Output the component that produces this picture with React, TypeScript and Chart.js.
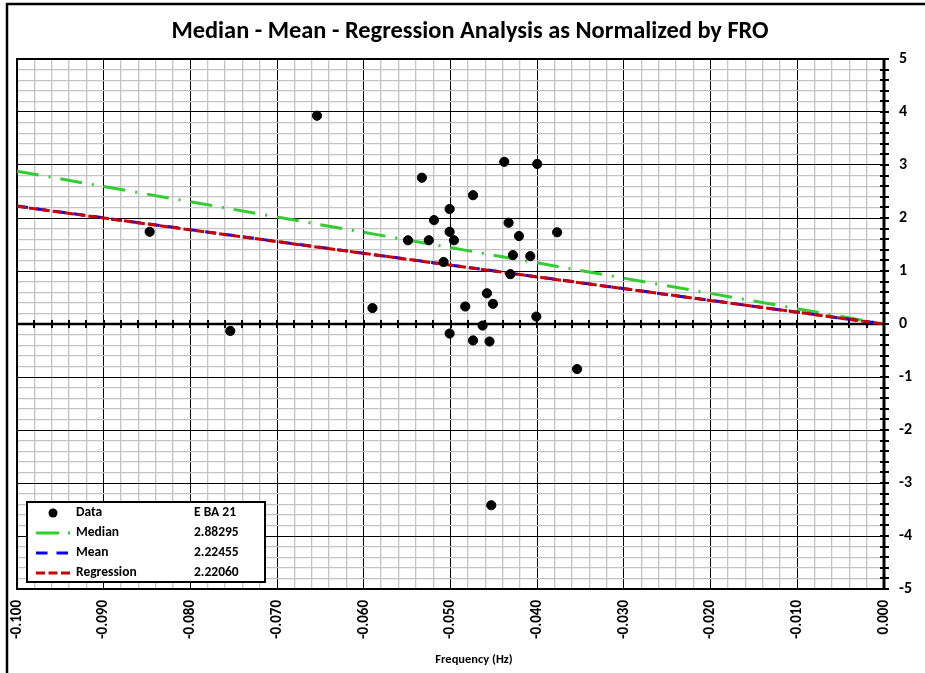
import React, { useEffect, useRef } from "react";
import { Chart, registerables } from "chart.js";

Chart.register(...registerables);

// ---------- data ----------
const chartTitle = "Median - Mean - Regression Analysis as Normalized by FRO";
const xAxisTitle = "Frequency (Hz)";

const dataX = [
  -0.0654, -0.0847, -0.0754, -0.059, -0.0533, -0.0549, -0.0525, -0.0519, -0.0508, -0.0501,
  -0.0501, -0.0496, -0.0501, -0.0483, -0.0474, -0.0474, -0.0463, -0.0458, -0.0455, -0.0451,
  -0.0453, -0.0438, -0.0433, -0.0431, -0.0428, -0.0421, -0.0408, -0.04, -0.0401, -0.0377,
  -0.0354,
];
const dataY = [
  3.93, 1.74, -0.13, 0.3, 2.76, 1.58, 1.58, 1.96, 1.17, 2.17,
  1.74, 1.58, -0.18, 0.33, 2.43, -0.31, -0.03, 0.58, -0.33, 0.38,
  -3.42, 3.06, 1.91, 0.94, 1.3, 1.66, 1.28, 3.02, 0.14, 1.73,
  -0.85,
];

const lineX = [-0.1, 0];
const medianY = [2.88295, 0];
const meanY = [2.22455, 0];
const regressionY = [2.2206, 0];

const legendLabels = ["Data", "Median", "Mean", "Regression"];
const legendValues = ["E BA 21", "2.88295", "2.22455", "2.22060"];

const xMin = -0.1;
const xMax = 0;
const xStep = 0.002;
const yMin = -5;
const yMax = 5;
const yStep = 0.2;

// ---------- style ----------
const FONT = "Carlito, Lato, 'Open Sans', sans-serif";
const GREEN = "#33cc33";
const BLUE = "#0000ff";
const RED = "#cc0000";
const MEDIAN_DASH = [22, 10, 2, 10];
const MEAN_DASH = [11, 8];
const REG_DASH = [9, 3];

const isMajorX = (v: number) => Math.abs(v * 100 - Math.round(v * 100)) < 1e-6;
const isMajorY = (v: number) => Math.abs(v - Math.round(v)) < 1e-6;

const pts = (xs: number[], ys: number[]) => xs.map((x, i) => ({ x, y: ys[i] }));

const stepTicks = (min: number, max: number, step: number) => {
  const n = Math.round((max - min) / step);
  const out: { value: number }[] = [];
  for (let i = 0; i <= n; i++) out.push({ value: Math.round((min + i * step) * 1e6) / 1e6 });
  return out;
};

const decorPlugin = {
  id: "decor",
  beforeDatasetsDraw(chart: any) {
    const { ctx, chartArea: a, scales } = chart;
    const xs = scales.x;
    const ys = scales.y;
    ctx.save();
    ctx.strokeStyle = "#000";
    // plot border
    ctx.lineWidth = 2;
    ctx.strokeRect(a.left, a.top, a.right - a.left, a.bottom - a.top);
    // zero line with ticks
    const y0 = Math.round(ys.getPixelForValue(0));
    ctx.lineWidth = 2.5;
    ctx.beginPath();
    ctx.moveTo(a.left, y0);
    ctx.lineTo(a.right, y0);
    ctx.stroke();
    ctx.lineWidth = 2;
    ctx.beginPath();
    xs.ticks.forEach((t: any) => {
      const px = Math.round(xs.getPixelForValue(t.value));
      ctx.moveTo(px, y0 - 4);
      ctx.lineTo(px, y0 + 4);
    });
    ctx.stroke();
    // y axis line at x = 0 with ticks
    const x0 = Math.round(xs.getPixelForValue(0));
    ctx.lineWidth = 3;
    ctx.beginPath();
    ctx.moveTo(x0, a.top);
    ctx.lineTo(x0, a.bottom);
    ctx.stroke();
    ctx.lineWidth = 2;
    ctx.beginPath();
    ys.ticks.forEach((t: any) => {
      const py = Math.round(ys.getPixelForValue(t.value));
      ctx.moveTo(x0 - 4, py);
      ctx.lineTo(x0 + 5, py);
    });
    ctx.stroke();
    ctx.restore();
  },
  afterDraw(chart: any) {
    const { ctx, chartArea: a } = chart;
    ctx.save();
    // outer frame (left and top edges visible)
    ctx.strokeStyle = "#000";
    ctx.lineWidth = 2.5;
    ctx.beginPath();
    ctx.moveTo(7, 700);
    ctx.lineTo(7, 4);
    ctx.lineTo(960, 4);
    ctx.stroke();

    // title
    ctx.fillStyle = "#000";
    ctx.textBaseline = "middle";
    ctx.textAlign = "center";
    ctx.font = `bold 24.4px ${FONT}`;
    ctx.fillText(chartTitle, 470, 32);

    // x axis title
    ctx.font = `bold 12.5px ${FONT}`;
    ctx.fillText(xAxisTitle, 474, 660);

    // legend
    const lx = a.left + 10;
    const ly = a.bottom - 87;
    const lw = 238;
    const lh = 80;
    ctx.fillStyle = "#fff";
    ctx.fillRect(lx, ly, lw, lh);
    ctx.strokeStyle = "#000";
    ctx.lineWidth = 2;
    ctx.strokeRect(lx, ly, lw, lh);
    const rowY = (i: number) => ly + 11 + i * 20;
    // Data marker
    ctx.fillStyle = "#000";
    ctx.beginPath();
    ctx.arc(lx + 26, rowY(0), 4.5, 0, Math.PI * 2);
    ctx.fill();
    const sample = (i: number, color: string, dash: number[]) => {
      ctx.strokeStyle = color;
      ctx.lineWidth = 3;
      ctx.setLineDash(dash);
      ctx.beginPath();
      ctx.moveTo(lx + 9, rowY(i));
      ctx.lineTo(lx + 43, rowY(i));
      ctx.stroke();
      ctx.setLineDash([]);
    };
    sample(1, GREEN, [23, 9, 2, 9]);
    sample(2, BLUE, [11.5, 9]);
    sample(3, RED, [9, 3.5]);
    ctx.fillStyle = "#000";
    ctx.textAlign = "left";
    ctx.font = `bold 13.5px ${FONT}`;
    legendLabels.forEach((t, i) => ctx.fillText(t, lx + 49, rowY(i)));
    legendValues.forEach((t, i) => ctx.fillText(t, lx + 167, rowY(i)));
    ctx.restore();
  },
};

export default function App() {
  const ref = useRef<HTMLCanvasElement | null>(null);

  useEffect(() => {
    if (!ref.current) return;
    const chart = new Chart(ref.current, {
      type: "scatter",
      data: {
        datasets: [
          {
            label: "Data",
            data: pts(dataX, dataY),
            backgroundColor: "#000",
            borderColor: "#000",
            pointRadius: 4.6,
            pointHoverRadius: 4.6,
            order: 0,
          },
          {
            label: "Regression",
            data: pts(lineX, regressionY),
            showLine: true,
            borderColor: RED,
            borderWidth: 3,
            borderDash: REG_DASH,
            pointRadius: 0,
            order: 1,
          },
          {
            label: "Mean",
            data: pts(lineX, meanY),
            showLine: true,
            borderColor: BLUE,
            borderWidth: 3,
            borderDash: MEAN_DASH,
            pointRadius: 0,
            order: 2,
          },
          {
            label: "Median",
            data: pts(lineX, medianY),
            showLine: true,
            borderColor: GREEN,
            borderWidth: 3,
            borderDash: MEDIAN_DASH,
            pointRadius: 0,
            order: 3,
          },
        ],
      },
      options: {
        responsive: false,
        animation: false,
        layout: { padding: { left: 17, top: 59, right: 0, bottom: 0 } },
        plugins: {
          legend: { display: false },
          tooltip: { enabled: false },
          title: { display: false },
        },
        scales: {
          x: {
            type: "linear",
            position: "bottom",
            min: xMin,
            max: xMax,
            afterBuildTicks: (s: any) => {
              s.ticks = stepTicks(xMin, xMax, xStep);
            },
            afterFit: (s: any) => {
              s.height = 84;
            },
            border: { display: false },
            grid: {
              drawTicks: false,
              color: (c: any) => (isMajorX(c.tick.value) ? "#000" : "#c4c4c4"),
              lineWidth: (c: any) => (isMajorX(c.tick.value) ? 1 : 1.3),
            },
            ticks: {
              stepSize: xStep,
              autoSkip: false,
              minRotation: 90,
              maxRotation: 90,
              padding: 11,
              color: "#000",
              font: { family: FONT, size: 15, weight: "bold" },
              callback: (v: any) => (isMajorX(Number(v)) ? Number(v).toFixed(3) : ""),
            },
          },
          y: {
            type: "linear",
            position: "right",
            min: yMin,
            max: yMax,
            afterBuildTicks: (s: any) => {
              s.ticks = stepTicks(yMin, yMax, yStep);
            },
            afterFit: (s: any) => {
              s.width = 41;
            },
            border: { display: false },
            grid: {
              drawTicks: false,
              color: (c: any) => (isMajorY(c.tick.value) ? "#000" : "#c4c4c4"),
              lineWidth: (c: any) => (isMajorY(c.tick.value) ? 1 : 1.3),
            },
            ticks: {
              stepSize: yStep,
              autoSkip: false,
              padding: 15,
              color: "#000",
              font: { family: FONT, size: 16, weight: "bold" },
              callback: (v: any) => (isMajorY(Number(v)) ? String(Math.round(Number(v))) : ""),
            },
          },
        },
      } as any,
      plugins: [decorPlugin],
    });
    return () => chart.destroy();
  }, []);

  return (
    <div style={{ position: "absolute", left: 0, top: 0, width: 925, height: 673, background: "#fff" }}>
      <canvas ref={ref} width={925} height={673} style={{ display: "block" }} />
    </div>
  );
}
